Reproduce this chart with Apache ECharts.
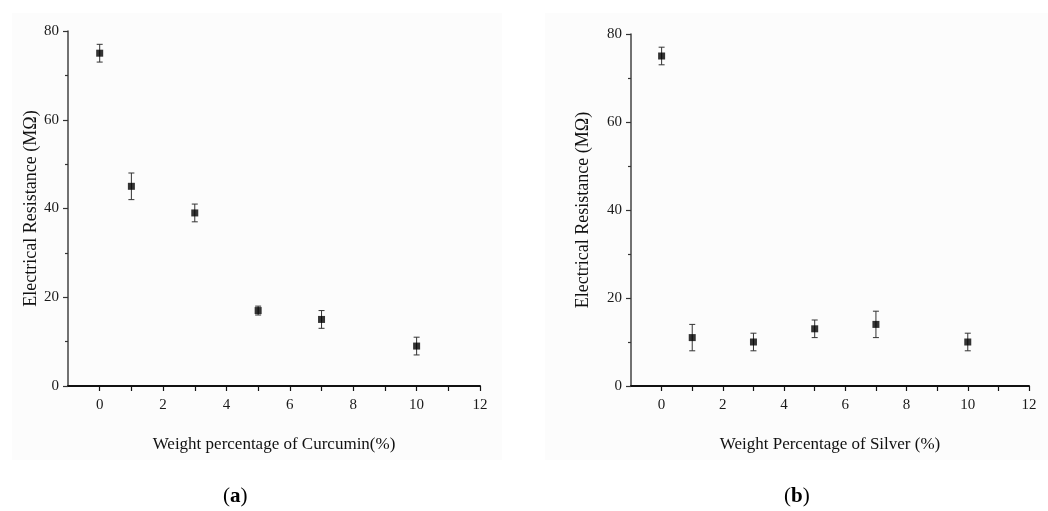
<!DOCTYPE html>
<html>
<head>
<meta charset="utf-8">
<script src="https://cdn.jsdelivr.net/npm/echarts@6/dist/echarts.min.js"></script>
<style>
html,body{margin:0;padding:0;background:#fff;}
#main{width:1048px;height:511px;}
</style>
</head>
<body>
<div id="main"></div>
<script>
// ---- data ----
const curcuminPct = [0, 1, 3, 5, 7, 10];
const curcuminRes = [75, 45, 39, 17, 15, 9];
const curcuminLow = [73, 42, 37, 16, 13, 7];
const curcuminHigh = [77, 48, 41, 18, 17, 11];

const silverPct = [0, 1, 3, 5, 7, 10];
const silverRes = [75, 11, 10, 13, 14, 10];
const silverLow = [73, 8, 8, 11, 11, 8];
const silverHigh = [77, 14, 12, 15, 17, 12];

const xTickLabels = [0, 2, 4, 6, 8, 10, 12];
const xTicks = [0, 1, 2, 3, 4, 5, 6, 7, 8, 9, 10, 11, 12];

const xTitleA = 'Weight percentage of Curcumin(%)';
const xTitleB = 'Weight Percentage of Silver (%)';
const yTitle = 'Electrical Resistance (MΩ)';

const FONT = '"Liberation Serif", "DejaVu Serif", serif';
const chart = echarts.init(document.getElementById('main'), null, {renderer: 'canvas'});

function xAxis(gridIndex, name, gap) {
  return {
    type: 'value', gridIndex: gridIndex, min: -1, max: 12,
    name: name, nameLocation: 'middle', nameGap: gap,
    nameTextStyle: {fontFamily: FONT, fontSize: 17, color: '#111'},
    axisLine: {show: true, onZero: false, lineStyle: {color: '#111', width: 2}},
    axisTick: {show: true, inside: false, length: 5, customValues: xTicks, lineStyle: {color: '#111', width: 1.2}},
    axisLabel: {customValues: xTickLabels, fontFamily: FONT, fontSize: 15, color: '#1a1a1a', margin: 12},
    splitLine: {show: false}
  };
}
function yAxis(gridIndex, gap) {
  return {
    type: 'value', gridIndex: gridIndex, min: 0, max: 80, interval: 20,
    name: yTitle, nameLocation: 'middle', nameGap: gap, nameRotate: 90,
    nameTextStyle: {fontFamily: FONT, fontSize: 18, color: '#111'},
    axisLine: {show: true, onZero: false, lineStyle: {color: '#444', width: 1.5}},
    axisTick: {show: true, inside: false, length: 5, lineStyle: {color: '#333', width: 1.2}},
    minorTick: {show: true, splitNumber: 2, length: 3, lineStyle: {color: '#333', width: 1.2}},
    axisLabel: {fontFamily: FONT, fontSize: 15, color: '#1a1a1a', margin: 9},
    splitLine: {show: false}
  };
}
function pts(xs, ys) { return xs.map((x, i) => [x, ys[i]]); }
function errData(xs, lo, hi) { return xs.map((x, i) => [x, lo[i], hi[i]]); }
function errSeries(idx, data) {
  return {
    type: 'custom', xAxisIndex: idx, yAxisIndex: idx, data: data, z: 2,
    renderItem: function (params, api) {
      const x = api.value(0);
      const p1 = api.coord([x, api.value(1)]);
      const p2 = api.coord([x, api.value(2)]);
      const cw = 3;
      const style = {stroke: '#333', lineWidth: 1};
      return {
        type: 'group',
        children: [
          {type: 'line', shape: {x1: p1[0], y1: p1[1], x2: p2[0], y2: p2[1]}, style: style},
          {type: 'line', shape: {x1: p1[0] - cw, y1: p1[1], x2: p1[0] + cw, y2: p1[1]}, style: style},
          {type: 'line', shape: {x1: p2[0] - cw, y1: p2[1], x2: p2[0] + cw, y2: p2[1]}, style: style}
        ]
      };
    },
    encode: {x: 0, y: [1, 2]}
  };
}

chart.setOption({
  backgroundColor: '#ffffff',
  animation: false,
  graphic: [
    {type: 'rect', shape: {x: 12, y: 13, width: 490, height: 447}, style: {fill: '#fcfcfc'}, z: -10, silent: true},
    {type: 'rect', shape: {x: 545, y: 13, width: 503, height: 447}, style: {fill: '#fcfcfc'}, z: -10, silent: true},
    {type: 'text', left: 223, top: 486, style: {
      text: '{n|(}{b|a}{n|)}',
      rich: {n: {fontFamily: FONT, fontSize: 21, fill: '#000'}, b: {fontFamily: FONT, fontSize: 21, fontWeight: 'bold', fill: '#000'}}
    }},
    {type: 'text', left: 784, top: 486, style: {
      text: '{n|(}{b|b}{n|)}',
      rich: {n: {fontFamily: FONT, fontSize: 21, fill: '#000'}, b: {fontFamily: FONT, fontSize: 21, fontWeight: 'bold', fill: '#000'}}
    }}
  ],
  grid: [
    {left: 68, top: 31, width: 412, height: 355},
    {left: 631, top: 34, width: 398, height: 352}
  ],
  xAxis: [xAxis(0, xTitleA, 50), xAxis(1, xTitleB, 50)],
  yAxis: [yAxis(0, 27), yAxis(1, 39)],
  series: [
    errSeries(0, errData(curcuminPct, curcuminLow, curcuminHigh)),
    {type: 'scatter', xAxisIndex: 0, yAxisIndex: 0, data: pts(curcuminPct, curcuminRes),
     symbol: 'rect', symbolSize: 7, itemStyle: {color: '#000'}, z: 3},
    errSeries(1, errData(silverPct, silverLow, silverHigh)),
    {type: 'scatter', xAxisIndex: 1, yAxisIndex: 1, data: pts(silverPct, silverRes),
     symbol: 'rect', symbolSize: 7, itemStyle: {color: '#000'}, z: 3}
  ]
});
</script>
</body>
</html>
